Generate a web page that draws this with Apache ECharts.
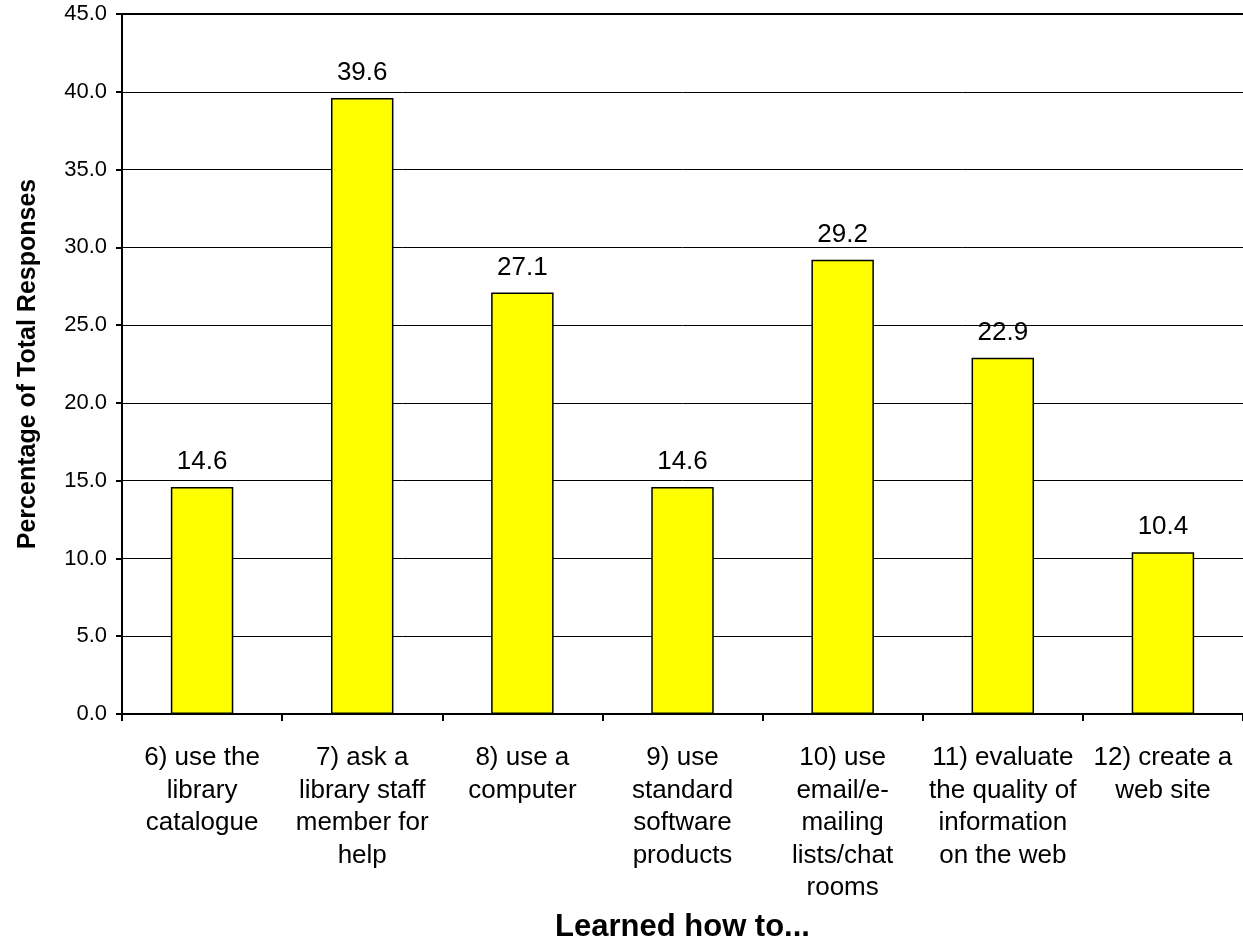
<!DOCTYPE html>
<html>
<head>
<meta charset="utf-8">
<script src="https://cdn.jsdelivr.net/npm/echarts@6/dist/echarts.min.js"></script>
<style>
  html, body { margin: 0; padding: 0; background: #fff; }
  #chart { width: 1243px; height: 951px; }
</style>
</head>
<body>
<div id="chart"></div>
<script>
// Skills respondents learned, as a percentage of total responses
var categories = [
  "6) use the\nlibrary\ncatalogue",
  "7) ask a\nlibrary staff\nmember for\nhelp",
  "8) use a\ncomputer",
  "9) use\nstandard\nsoftware\nproducts",
  "10) use\nemail/e-\nmailing\nlists/chat\nrooms",
  "11) evaluate\nthe quality of\ninformation\non the web",
  "12) create a\nweb site"
];
var percentages = [14.6, 39.6, 27.1, 14.6, 29.2, 22.9, 10.4];
var yAxisTitle = "Percentage of Total Responses";
var xAxisTitle = "Learned how to...";

var font = "Liberation Sans, Arial, sans-serif";
var chart = echarts.init(document.getElementById("chart"), null, { renderer: "canvas" });

chart.setOption({
  animation: false,
  backgroundColor: "#ffffff",
  grid: { left: 122, top: 14, right: -4, height: 700, containLabel: false },
  xAxis: {
    type: "category",
    data: categories,
    boundaryGap: true,
    axisLine: { show: true, lineStyle: { color: "#000", width: 2 } },
    axisTick: { show: true, alignWithLabel: false, length: 7, lineStyle: { color: "#000", width: 2 } },
    axisLabel: {
      interval: 0,
      color: "#000",
      fontFamily: font,
      fontSize: 26,
      lineHeight: 32.5,
      margin: 28,
      align: "center"
    },
    name: xAxisTitle,
    nameLocation: "middle",
    nameGap: 198,
    nameTextStyle: { fontFamily: font, fontSize: 31, fontWeight: "bold", color: "#000" }
  },
  yAxis: {
    type: "value",
    min: 0,
    max: 45,
    interval: 5,
    axisLine: { show: true, lineStyle: { color: "#000", width: 2 } },
    axisTick: { show: true, length: 6, lineStyle: { color: "#000", width: 2 } },
    splitLine: { show: true, lineStyle: { color: "#000", width: 1 } },
    axisLabel: {
      color: "#000",
      fontFamily: font,
      fontSize: 22,
      margin: 15,
      formatter: function (v) { return v.toFixed(1); }
    },
    name: yAxisTitle,
    nameLocation: "middle",
    nameGap: 81,
    nameRotate: 90,
    nameTextStyle: { fontFamily: font, fontSize: 25, fontWeight: "bold", color: "#000" }
  },
  series: [{
    type: "bar",
    data: percentages,
    barWidth: "39%",
    itemStyle: { color: "#ffff00", borderColor: "#000", borderWidth: 1.5 },
    label: {
      show: true,
      position: "top",
      distance: 12,
      color: "#000",
      fontFamily: font,
      fontSize: 26,
      formatter: function (p) { return p.value.toFixed(1); }
    }
  }]
});

// Heavier top edge at the 45.0 line
chart.setOption({
  graphic: [{
    type: "line",
    shape: { x1: 116, y1: 14, x2: 1243, y2: 14 },
    style: { stroke: "#000", lineWidth: 2 },
    silent: true
  }]
});
</script>
</body>
</html>
